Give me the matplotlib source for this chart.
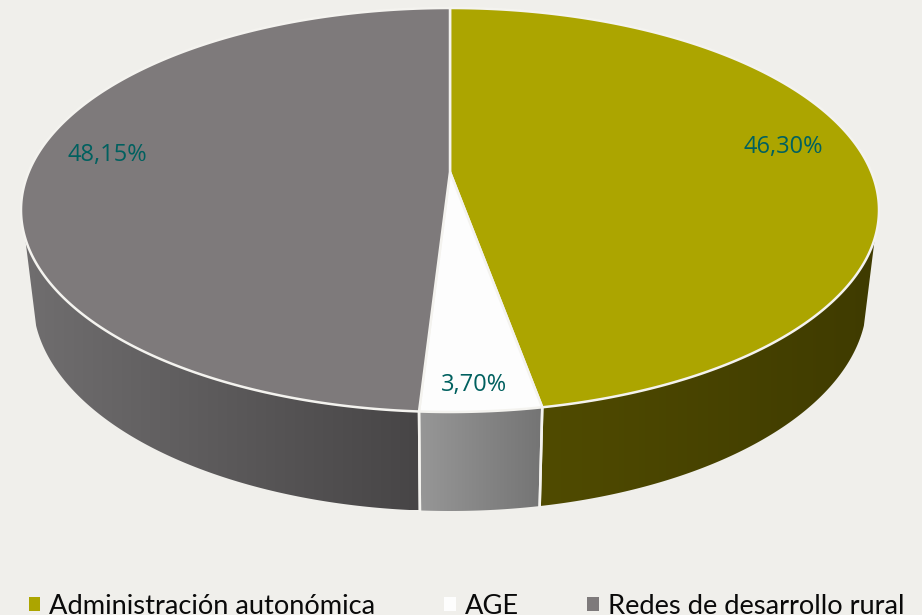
import numpy as np
import matplotlib
matplotlib.use("Agg")
import matplotlib.pyplot as plt
from matplotlib.patches import Polygon, Patch

categories = ["Administración autonómica", "AGE", "Redes de desarrollo rural"]
labels = ["46,30%", "3,70%", "48,15%"]
shares = [46.55, 4.6, 48.85]
colors = ["#aca500", "#fdfdfd", "#7e7a7b"]
side_left = ["#504b00", "#979797", "#706e6f"]
side_right = ["#3f3b00", "#747474", "#474546"]
label_pos = [(783, 147), (474, 385), (107, 155)]

BG = "#f0efeb"
LINE = "#f4f3ef"
TOP = dict(cx=450, cy=210, rx=429, ry=202, apex=(450, 172))
BOT = dict(cx=450, cy=300, rx=417, ry=211)


def ell(e, t):
    t = np.radians(t)
    return np.column_stack([e["cx"] + e["rx"] * np.sin(t), e["cy"] - e["ry"] * np.cos(t)])


fig = plt.figure(figsize=(9.22, 6.15), dpi=100, facecolor=BG)
ax = fig.add_axes([0, 0, 1, 1])
ax.set_xlim(0, 922)
ax.set_ylim(615, 0)
ax.axis("off")

edges = np.concatenate([[0], np.cumsum(shares)]) / np.sum(shares) * 360
top_lo, top_hi = 98.0, 262.0
bot_lo, bot_hi = 97.0, 263.0

for i in range(3):
    a, b = max(edges[i], top_lo), min(edges[i + 1], top_hi)
    if b <= a:
        continue
    ts_top = np.linspace(a, b, 120)
    ts_bot = np.linspace(max(edges[i], bot_lo), min(edges[i + 1], bot_hi), 120)
    poly_pts = np.vstack([ell(TOP, ts_top), ell(BOT, ts_bot[::-1])])
    xmin, xmax = poly_pts[:, 0].min(), poly_pts[:, 0].max()
    ymin, ymax = poly_pts[:, 1].min(), poly_pts[:, 1].max()
    c0 = np.array(matplotlib.colors.to_rgb(side_left[i]))
    c1 = np.array(matplotlib.colors.to_rgb(side_right[i]))
    g = np.linspace(0, 1, 256)[None, :, None]
    grad = c0[None, None, :] * (1 - g) + c1[None, None, :] * g
    im = ax.imshow(grad, extent=(xmin, xmax, ymax, ymin), aspect="auto", zorder=1)
    clip = Polygon(poly_pts, closed=True, transform=ax.transData, fc="none", ec="none")
    ax.add_patch(clip)
    im.set_clip_path(clip)
    # separators between the side walls only
    for t in (edges[i], edges[i + 1]):
        if top_lo < t < top_hi:
            seg = np.vstack([ell(TOP, [t]), ell(BOT, [t])])
            ax.plot(seg[:, 0], seg[:, 1], color=LINE, lw=1.8, zorder=2)
ax.set_xlim(0, 922)
ax.set_ylim(615, 0)

for i in range(3):
    ts = np.linspace(edges[i], edges[i + 1], 240)
    pts = np.vstack([[TOP["apex"]], ell(TOP, ts)])
    ax.add_patch(Polygon(pts, closed=True, fc=colors[i], ec=LINE, lw=1.8, zorder=3, joinstyle="round"))

for (x, y), s in zip(label_pos, labels):
    ax.text(x, y, s, color="#00605f", fontsize=17, family="Open Sans", ha="center", va="center", zorder=4)

handles = [Patch(fc=c, ec="none") for c in colors]
ax.legend(handles, categories, ncol=3, loc="lower left", bbox_to_anchor=(29 / 922, -0.006),
          frameon=False, prop={"family": "Lato", "size": 19.6},
          handlelength=0.42, handleheight=0.42, handletextpad=0.33, columnspacing=2.52,
          borderpad=0, borderaxespad=0, labelcolor="#0a0a0a")

fig.savefig("out.png", dpi=100, facecolor=BG)
